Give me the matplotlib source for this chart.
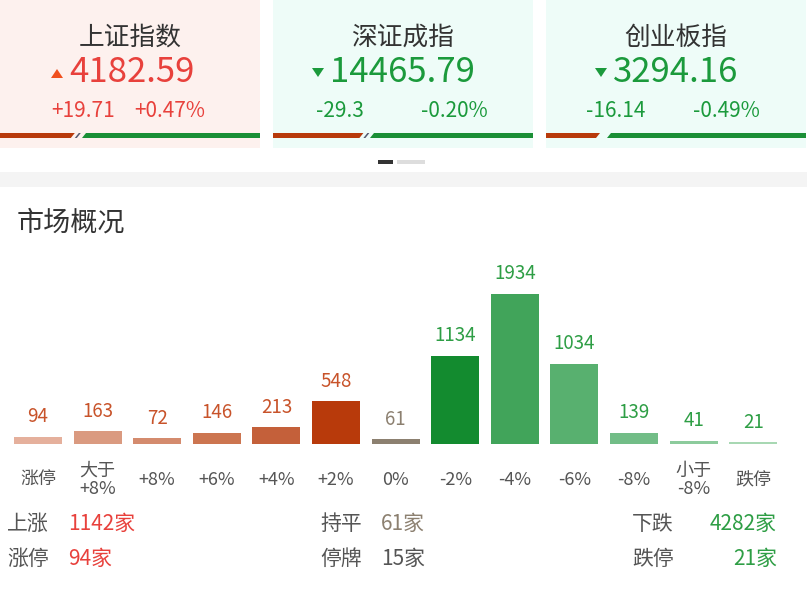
import numpy as np
import matplotlib.pyplot as plt
from matplotlib.patches import Rectangle, Polygon

plt.rcParams['font.family'] = ['Noto Sans CJK SC', 'DejaVu Sans']

# index cards
idx_names = ['上证指数', '深证成指', '创业板指']
idx_values = ['4182.59', '14465.79', '3294.16']
idx_changes = ['+19.71', '-29.3', '-16.14']
idx_pcts = ['+0.47%', '-0.20%', '-0.49%']
idx_up = [True, False, False]
idx_red_share = [0.28, 0.34, 0.20]

# market overview distribution
categories = ['涨停', '大于\n+8%', '+8%', '+6%', '+4%', '+2%', '0%',
              '-2%', '-4%', '-6%', '-8%', '小于\n-8%', '跌停']
counts = [94, 163, 72, 146, 213, 548, 61, 1134, 1934, 1034, 139, 41, 21]
bar_colors = ['#e5b09c', '#da9a80', '#d48b6e', '#cc7550', '#c4603a', '#b83a0b',
              '#8c8070', '#138b2f', '#41a45a', '#58b06f', '#72bd87', '#8ccb9c', '#a8d8b3']
label_colors = ['#c8532a'] * 6 + ['#8c8070'] + ['#2e9e45'] * 6

summary_left = [('上涨', '1142家'), ('涨停', '94家')]
summary_mid = [('持平', '61家'), ('停牌', '15家')]
summary_right = [('下跌', '4282家'), ('跌停', '21家')]

RED = '#e8413c'
GREEN = '#1b9a3c'
DARK = '#333333'

W, H = 807, 613
fig = plt.figure(figsize=(W / 100, H / 100), dpi=100)
bg = fig.add_axes([0, 0, 1, 1])
bg.set_xlim(0, W)
bg.set_ylim(H, 0)
bg.axis('off')

# cards (pixel layout)
card_x = [0, 273, 546]
card_w = 260
value_left = [69, 57, 67]      # offset of value text from card edge
chg_pos = [(83, 170), (67, 181), (70, 180)]
for i, x0 in enumerate(card_x):
    up = idx_up[i]
    face = '#fdf1ee' if up else '#eefcf8'
    bg.add_patch(Rectangle((x0, 0), card_w, 148, color=face, lw=0))
    cx = x0 + card_w / 2
    bg.text(cx, 38, idx_names[i], fontsize=18.5, color=DARK, ha='center', va='center')
    col = RED if up else GREEN
    tx = x0 + value_left[i]
    bg.text(tx, 73, idx_values[i], fontsize=25, color=col, ha='left', va='center')
    tc = tx - 12
    if up:
        tri = [(tc - 6, 78), (tc + 6, 78), (tc, 69)]
        bg.add_patch(Polygon(tri, closed=True, color='#f0501e', lw=0))
    else:
        tri = [(tc - 6, 68), (tc + 6, 68), (tc, 77)]
        bg.add_patch(Polygon(tri, closed=True, color=GREEN, lw=0))
    bg.text(x0 + chg_pos[i][0], 111, idx_changes[i], fontsize=15, color=col, ha='center', va='center')
    bg.text(x0 + chg_pos[i][1], 111, idx_pcts[i], fontsize=15, color=col, ha='center', va='center')
    # red / green strip
    rx = x0 + card_w * idx_red_share[i]
    y0, y1 = 133, 138
    bg.add_patch(Polygon([(x0, y0), (rx + 2, y0), (rx - 2, y1), (x0, y1)], color='#b83a0b', lw=0))
    if i < 2:
        bg.add_patch(Polygon([(rx + 6, y0), (rx + 8, y0), (rx + 4, y1), (rx + 2, y1)], color='#555a70', lw=0))
    gx = rx + 13
    bg.add_patch(Polygon([(gx, y0), (x0 + card_w, y0), (x0 + card_w, y1), (gx - 4, y1)], color='#1a8f36', lw=0))

# pager dots
bg.add_patch(Rectangle((378, 160), 15, 3.5, color='#333333', lw=0))
bg.add_patch(Rectangle((397, 160), 28, 3.5, color='#dddddd', lw=0))

# gray separator
bg.add_patch(Rectangle((0, 172), W, 15, color='#f4f4f4', lw=0))

bg.text(17, 223, '市场概况', fontsize=19.5, color=DARK, ha='left', va='center')

# distribution bars
step = 59.6
first = 38
base_y, top_y = 444, 294
ax = fig.add_axes([0, (H - base_y) / H, 1, (base_y - top_y) / H])
ax.patch.set_alpha(0)
x = np.arange(len(counts))
ax.bar(x, counts, width=48 / step, color=bar_colors)
ax.set_xlim(-first / step, (W - first) / step)
ax.set_ylim(0, max(counts))
ax.axis('off')
for xi, c, lc in zip(x, counts, label_colors):
    ax.annotate(str(c), (xi, c), xytext=(0, 7), textcoords='offset points',
                ha='center', va='bottom', fontsize=13.5, color=lc, annotation_clip=False)

for i, cat in enumerate(categories):
    cx = first + step * i
    bg.text(cx, 480, cat, fontsize=13, color='#555555', ha='center', va='center',
            linespacing=1.05)

# summary rows
rows_y = [524, 559]
for r, y in enumerate(rows_y):
    lab, v = summary_left[r]
    bg.text(7, y, lab, fontsize=15, color='#555555', ha='left', va='center')
    bg.text(68, y, v, fontsize=15, color=RED, ha='left', va='center')
    lab, v = summary_mid[r]
    bg.text(320, y, lab, fontsize=15, color='#555555', ha='left', va='center')
    bg.text(381, y, v, fontsize=15, color='#8c8070' if r == 0 else '#555555', ha='left', va='center')
    lab, v = summary_right[r]
    bg.text(632, y, lab, fontsize=15, color='#555555', ha='left', va='center')
    bg.text(777, y, v, fontsize=15, color='#2e9e45', ha='right', va='center')

fig.savefig('out.png', dpi=100)
